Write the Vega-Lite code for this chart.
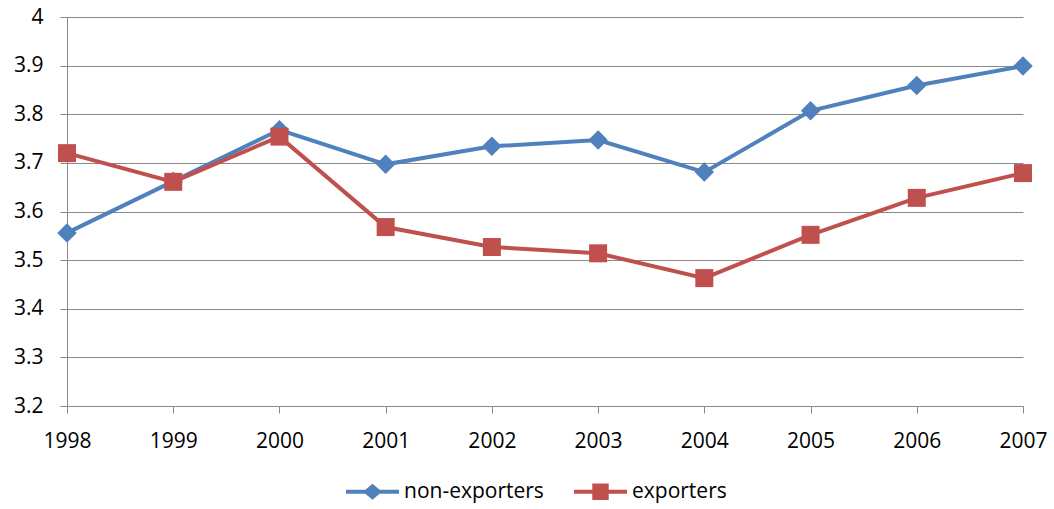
{
  "$schema": "https://vega.github.io/schema/vega-lite/v6.json",
  "width": 956,
  "height": 389,
  "autosize": {"type": "none"},
  "padding": {"left": 67, "top": 17, "right": 31, "bottom": 103},
  "background": "white",
  "config": {
    "view": {"stroke": null},
    "font": "Open Sans",
    "axis": {"labelFont": "Open Sans", "labelFontSize": 21, "labelColor": "#000000", "domainColor": "#898989", "tickColor": "#898989", "gridColor": "#898989", "gridOpacity": 1, "tickSize": 7, "domainWidth": 1, "tickWidth": 1, "gridWidth": 1, "title": null},
    "legend": {"labelFont": "Open Sans", "labelFontSize": 21, "labelColor": "#000000"}
  },
  "data": {
    "values": [
      {"year": "1998", "series": "non-exporters", "value": 3.556},
      {"year": "1999", "series": "non-exporters", "value": 3.662},
      {"year": "2000", "series": "non-exporters", "value": 3.768},
      {"year": "2001", "series": "non-exporters", "value": 3.697},
      {"year": "2002", "series": "non-exporters", "value": 3.734},
      {"year": "2003", "series": "non-exporters", "value": 3.747},
      {"year": "2004", "series": "non-exporters", "value": 3.681},
      {"year": "2005", "series": "non-exporters", "value": 3.807},
      {"year": "2006", "series": "non-exporters", "value": 3.859},
      {"year": "2007", "series": "non-exporters", "value": 3.899},
      {"year": "1998", "series": "exporters", "value": 3.72},
      {"year": "1999", "series": "exporters", "value": 3.661},
      {"year": "2000", "series": "exporters", "value": 3.754},
      {"year": "2001", "series": "exporters", "value": 3.568},
      {"year": "2002", "series": "exporters", "value": 3.527},
      {"year": "2003", "series": "exporters", "value": 3.514},
      {"year": "2004", "series": "exporters", "value": 3.463},
      {"year": "2005", "series": "exporters", "value": 3.552},
      {"year": "2006", "series": "exporters", "value": 3.628},
      {"year": "2007", "series": "exporters", "value": 3.679}
    ]
  },
  "encoding": {
    "x": {
      "field": "year", "type": "ordinal",
      "scale": {"type": "point", "padding": 0},
      "axis": {"labelAngle": 0, "grid": false, "labelPadding": 17, "ticks": true}
    },
    "y": {
      "field": "value", "type": "quantitative",
      "scale": {"domain": [3.2, 4], "nice": false, "zero": false},
      "axis": {"values": [3.2, 3.3, 3.4, 3.5, 3.6, 3.7, 3.8, 3.9, 4], "format": ".1~f", "grid": true, "labelPadding": 17}
    }
  },
  "layer": [
    {
      "transform": [{"filter": "datum.series === 'non-exporters'"}],
      "mark": {"type": "line", "strokeWidth": 4, "color": "#4F81BD"}
    },
    {
      "transform": [{"filter": "datum.series === 'non-exporters'"}],
      "mark": {"type": "point", "filled": true, "opacity": 1, "size": 380, "shape": "diamond", "color": "#4F81BD"}
    },
    {
      "transform": [{"filter": "datum.series === 'exporters'"}],
      "mark": {"type": "line", "strokeWidth": 4, "color": "#C0504D"}
    },
    {
      "transform": [{"filter": "datum.series === 'exporters'"}],
      "mark": {"type": "point", "filled": true, "opacity": 1, "size": 324, "shape": "square", "color": "#C0504D"}
    },
    {
      "mark": {"type": "point", "filled": true, "opacity": 0, "size": 10},
      "encoding": {
        "color": {
          "field": "series", "type": "nominal",
          "scale": {"domain": ["non-exporters", "exporters"], "range": ["#4F81BD", "#C0504D"]},
          "legend": {
            "orient": "none", "legendX": 279, "legendY": 448, "direction": "horizontal", "title": null,
            "symbolSize": 2809, "symbolOpacity": 1, "symbolStrokeWidth": 0, "labelOffset": 5, "columnPadding": 30
          }
        },
        "shape": {
          "field": "series", "type": "nominal",
          "scale": {"domain": ["non-exporters", "exporters"], "range": ["M-1,-0.075H1V0.075H-1Z M0,-0.3L0.36,0L0,0.3L-0.36,0Z", "M-1,-0.075H1V0.075H-1Z M-0.31,-0.31H0.31V0.31H-0.31Z"]},
          "legend": {
            "orient": "none", "legendX": 279, "legendY": 448, "direction": "horizontal", "title": null,
            "symbolSize": 2809, "symbolOpacity": 1, "symbolStrokeWidth": 0, "labelOffset": 5, "columnPadding": 30
          }
        }
      }
    }
  ]
}
